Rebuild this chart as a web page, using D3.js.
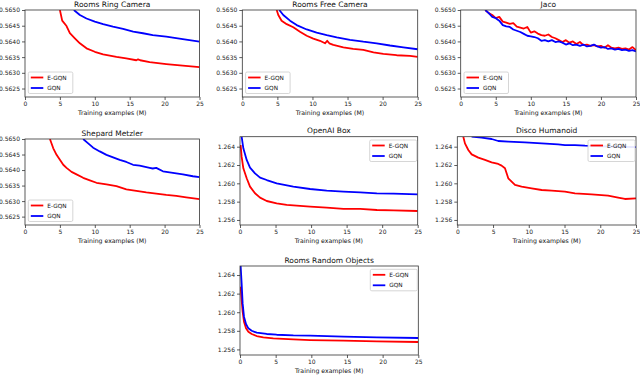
<!DOCTYPE html>
<html>
<head>
<meta charset="utf-8">
<script src="https://cdn.jsdelivr.net/npm/d3@7"></script>
<style>
  body { margin: 0; background: #fff; }
  svg { display: block; font-family: "DejaVu Sans", sans-serif; }
</style>
</head>
<body>
<svg id="chart" width="640" height="375"></svg>
<script>
// ---- data ----
const xTicks = [0, 5, 10, 15, 20, 25];
const smallTicks = [0.5625, 0.5630, 0.5635, 0.5640, 0.5645, 0.5650];
const bigTicks = [1.256, 1.258, 1.260, 1.262, 1.264];

const ringRed = [[5.0,0.5650],[5.33,0.56466],[5.95,0.56449],[6.43,0.56426],[7.14,0.5641],[7.86,0.56394],[8.81,0.56378],[10,0.56367],[11.19,0.56359],[13.1,0.56351],[14.5,0.56346],[15.95,0.5634],[16.2,0.56343],[16.5,0.5634],[17.86,0.56334],[20.24,0.56328],[22.6,0.56323],[25,0.56318]];
const ringBlue = [[7.0,0.5650],[7.86,0.56484],[8.81,0.56473],[10,0.56463],[11.19,0.56455],[12.6,0.56447],[14.05,0.5644],[15.5,0.56431],[16.9,0.56426],[18.3,0.5642],[20.24,0.56415],[22.6,0.56407],[25,0.56399]];

const freeRed = [[4.9,0.5650],[5.13,0.56484],[5.6,0.56466],[6.33,0.56455],[7.27,0.56445],[8.22,0.56431],[9.18,0.56418],[10.12,0.56409],[11.07,0.56402],[11.79,0.56394],[12.1,0.56402],[12.4,0.56394],[12.97,0.56389],[14.4,0.56381],[15.8,0.56376],[17.25,0.56373],[18.7,0.56365],[20.1,0.5636],[22,0.56356],[23.9,0.56354],[25,0.56351]];
const freeBlue = [[5.27,0.5650],[5.84,0.56484],[6.8,0.56466],[7.75,0.56452],[9.18,0.56438],[10.6,0.56428],[12.03,0.5642],[13.46,0.56413],[15.35,0.56405],[17.25,0.56399],[19.15,0.56394],[21.05,0.56387],[22.95,0.56381],[25,0.56375]];

const jacoX = [3.5,4,4.5,5,5.5,6,6.5,7,7.5,8,8.5,9,9.5,10,10.5,11,11.5,12,12.5,13,13.5,14,14.5,15,15.5,16,16.5,17,17.5,18,18.5,19,19.5,20,20.5,21,21.5,22,22.5,23,23.5,24,24.5,25];
const jacoRed = [0.5650,0.5649,0.56484,0.56474,0.56478,0.56463,0.5646,0.56456,0.56458,0.56447,0.56444,0.56441,0.56446,0.56428,0.56432,0.56425,0.5642,0.56418,0.56422,0.56414,0.5641,0.56404,0.56398,0.56404,0.56396,0.564,0.56392,0.56398,0.56388,0.5639,0.56386,0.56388,0.56384,0.56386,0.5638,0.56388,0.5638,0.56378,0.5638,0.56376,0.56378,0.56374,0.56382,0.56372];
const jacoBlue = [0.5650,0.5649,0.56478,0.56474,0.56466,0.56452,0.56448,0.56446,0.56438,0.56434,0.5643,0.56424,0.56418,0.56416,0.56414,0.5641,0.56402,0.56404,0.564,0.56404,0.56398,0.564,0.56396,0.5639,0.56394,0.56388,0.5639,0.56386,0.5639,0.56384,0.56386,0.5639,0.56384,0.5638,0.56382,0.56376,0.56378,0.56374,0.56376,0.56372,0.56374,0.5637,0.56372,0.56368];

const shepRed = [[3.57,0.5650],[4.05,0.5647],[4.52,0.56449],[5,0.56433],[5.48,0.56417],[5.95,0.56407],[6.67,0.56394],[7.38,0.56386],[8.33,0.56375],[9.29,0.56367],[10.24,0.56359],[11.67,0.56354],[13.1,0.56348],[14.52,0.56338],[15.95,0.56333],[17.38,0.56328],[18.8,0.56324],[20.24,0.5632],[21.67,0.56317],[23.1,0.56312],[25,0.56306]];
const shepBlue = [[8.33,0.5650],[9.05,0.56486],[9.76,0.56472],[10.71,0.5646],[11.67,0.56449],[12.62,0.56441],[13.57,0.56433],[14.52,0.56426],[15.48,0.56417],[16.43,0.56414],[17.86,0.56407],[18.3,0.56405],[18.8,0.56407],[19.76,0.56396],[21.19,0.56391],[22.62,0.56386],[24.05,0.5638],[25,0.56377]];

const boxRed = [[0.09,1.26418],[0.23,1.26291],[0.47,1.26164],[0.94,1.26055],[1.41,1.25964],[2.11,1.25891],[2.82,1.25844],[3.76,1.25807],[5.16,1.25782],[6.57,1.25764],[7.98,1.25756],[9.86,1.25745],[12.2,1.25735],[14.55,1.2572],[16.9,1.2572],[19.25,1.25709],[21.6,1.25705],[25,1.25698]];
const boxBlue = [[0.23,1.26509],[0.47,1.26382],[0.94,1.26255],[1.41,1.26171],[2.11,1.26109],[2.82,1.26062],[3.76,1.26036],[5.16,1.26],[7.5,1.25964],[9.86,1.25938],[12.2,1.2592],[14.55,1.25909],[16.9,1.25902],[19.25,1.25891],[21.6,1.25887],[25,1.2588]];

const discoRed = [[0.84,1.26509],[1.07,1.26436],[1.54,1.26364],[2.01,1.26316],[2.94,1.2628],[3.87,1.26255],[4.8,1.26229],[5.73,1.26211],[6.2,1.26193],[6.67,1.26164],[6.9,1.26109],[7.13,1.26055],[7.6,1.26018],[8.07,1.25982],[9,1.25964],[10.4,1.25945],[11.8,1.25927],[13.2,1.2592],[15.06,1.25909],[16.46,1.25891],[18.79,1.2588],[21.1,1.25865],[22.5,1.25844],[23.45,1.25829],[25,1.25836]];
const discoBlue = [[2.0,1.26509],[3.4,1.26498],[4.8,1.26484],[5.73,1.26462],[7.13,1.26455],[9.46,1.26447],[11.8,1.26436],[14.1,1.26425],[15.06,1.26418],[16.46,1.26418],[17.86,1.26411],[21,1.26402],[25,1.26395]];

const randRed = [[0.09,1.26275],[0.23,1.26131],[0.37,1.26006],[0.56,1.25898],[0.84,1.25827],[1.17,1.25791],[1.64,1.25766],[2.34,1.25744],[3.27,1.2573],[4.67,1.25719],[7.48,1.25708],[9.82,1.25701],[14.5,1.25694],[19.2,1.25687],[25,1.2568]];
const randBlue = [[0.09,1.26497],[0.23,1.2631],[0.37,1.26095],[0.56,1.25952],[0.84,1.25873],[1.17,1.25827],[1.64,1.25801],[2.34,1.2578],[3.74,1.25766],[5.14,1.25758],[7.48,1.25751],[9.82,1.25748],[14.5,1.25737],[19.2,1.2573],[25,1.25723]];

const seriesNames = ["E-GQN", "GQN"];
const seriesColors = ["#ff0000", "#0000ff"];

// ---- panel layout ----
const panels = [
  { title: "Rooms Ring Camera", left: 25, top: 10, width: 174.5, height: 87, ylim: [0.56223, 0.5650], ticks: smallTicks, fmt: ".4f", legend: "ll", red: ringRed, blue: ringBlue },
  { title: "Rooms Free Camera", left: 242.3, top: 10, width: 175.4, height: 87, ylim: [0.56223, 0.5650], ticks: smallTicks, fmt: ".4f", legend: "ll", red: freeRed, blue: freeBlue },
  { title: "Jaco", left: 460.7, top: 10, width: 175.3, height: 87, ylim: [0.56223, 0.5650], ticks: smallTicks, fmt: ".4f", legend: "ll", red: jacoX.map((x, i) => [x, jacoRed[i]]), blue: jacoX.map((x, i) => [x, jacoBlue[i]]) },
  { title: "Shepard Metzler", left: 25, top: 139, width: 174.5, height: 86, ylim: [0.56223, 0.5650], ticks: smallTicks, fmt: ".4f", legend: "ll", red: shepRed, blue: shepBlue },
  { title: "OpenAI Box", left: 240, top: 136.7, width: 177.7, height: 88.3, ylim: [1.25545, 1.26509], ticks: bigTicks, fmt: ".3f", legend: "ur", red: boxRed, blue: boxBlue },
  { title: "Disco Humanoid", left: 457.3, top: 136.7, width: 178.7, height: 88.3, ylim: [1.25545, 1.26509], ticks: bigTicks, fmt: ".3f", legend: "ur", red: discoRed, blue: discoBlue },
  { title: "Rooms Random Objects", left: 240, top: 266, width: 178.3, height: 89, ylim: [1.2554, 1.26497], ticks: bigTicks, fmt: ".3f", legend: "ur", red: randRed, blue: randBlue }
];

const svg = d3.select("#chart");
const defs = svg.append("defs");

panels.forEach((p, idx) => {
  const x = d3.scaleLinear().domain([0, 25]).range([p.left, p.left + p.width]);
  const y = d3.scaleLinear().domain(p.ylim).range([p.top + p.height, p.top]);

  defs.append("clipPath").attr("id", "clip" + idx)
    .append("rect")
    .attr("x", p.left).attr("y", p.top)
    .attr("width", p.width).attr("height", p.height);

  const g = svg.append("g");

  // curves
  const line = d3.line().x(d => x(d[0])).y(d => y(d[1]));
  const lines = g.append("g").attr("clip-path", `url(#clip${idx})`);
  [p.red, p.blue].forEach((s, k) => {
    lines.append("path")
      .attr("d", line(s))
      .attr("fill", "none")
      .attr("stroke", seriesColors[k])
      .attr("stroke-width", 1.8)
      .attr("stroke-linejoin", "round");
  });

  // axes
  const xAxis = d3.axisBottom(x).tickValues(xTicks).tickSize(3).tickPadding(2);
  const yAxis = d3.axisLeft(y).tickValues(p.ticks).tickSize(3).tickPadding(2).tickFormat(d3.format(p.fmt));

  const gx = g.append("g").attr("transform", `translate(0,${p.top + p.height})`).call(xAxis);
  const gy = g.append("g").attr("transform", `translate(${p.left},0)`).call(yAxis);
  [gx, gy].forEach(a => {
    a.select(".domain").remove();
    a.selectAll("line").attr("stroke", "#333").attr("stroke-width", 0.8);
    a.selectAll("text").attr("font-size", 6).attr("fill", "#222")
      .attr("font-family", "DejaVu Sans, sans-serif");
  });

  // frame
  g.append("rect")
    .attr("x", p.left).attr("y", p.top)
    .attr("width", p.width).attr("height", p.height)
    .attr("fill", "none").attr("stroke", "#333").attr("stroke-width", 0.8);

  // title and x label
  g.append("text")
    .attr("x", p.left + p.width / 2).attr("y", p.top - 3.5)
    .attr("text-anchor", "middle").attr("font-size", 7.5).attr("fill", "#111")
    .text(p.title);
  g.append("text")
    .attr("x", p.left + p.width / 2).attr("y", p.top + p.height + 18)
    .attr("text-anchor", "middle").attr("font-size", 6.2).attr("fill", "#111")
    .text("Training examples (M)");

  // legend
  const bw = p.legend === "ll" ? 44.5 : 47, bh = 21.5;
  const bx = p.legend === "ll" ? p.left + 3.3 : p.left + p.width - 1 - bw;
  const by = p.legend === "ll" ? p.top + p.height - 3.5 - bh : p.top + 3.3;
  const lg = g.append("g");
  lg.append("rect")
    .attr("x", bx).attr("y", by).attr("width", bw).attr("height", bh)
    .attr("rx", 1.5).attr("fill", "#fff").attr("fill-opacity", 0.9)
    .attr("stroke", "#ccc").attr("stroke-width", 0.8);
  seriesNames.forEach((name, k) => {
    const ly = by + 5.5 + k * 10.5;
    lg.append("line")
      .attr("x1", bx + 2.5).attr("x2", bx + 15)
      .attr("y1", ly).attr("y2", ly)
      .attr("stroke", seriesColors[k]).attr("stroke-width", 1.8);
    lg.append("text")
      .attr("x", bx + 19).attr("y", ly + 2.1)
      .attr("font-size", 5.8).attr("fill", "#111")
      .text(name);
  });
});
</script>
</body>
</html>
